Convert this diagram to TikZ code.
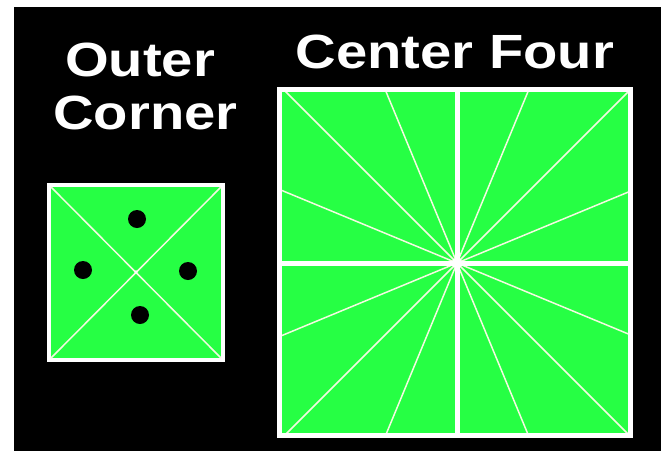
\documentclass[tikz,border=0pt]{standalone}
\usepackage{fontspec}
\setmainfont{Liberation Sans}
\definecolor{grn}{RGB}{38,255,68}
\definecolor{ray}{RGB}{245,250,225}
\begin{document}
\begin{tikzpicture}[x=1pt,y=-1pt,
  title/.style={text=white,font=\fontsize{48}{50}\selectfont\bfseries,anchor=base,inner sep=0pt,xscale=1.17},
  frame/.style={draw=white,fill=grn},
  rayline/.style={draw=ray,line width=1.5pt},
  dot/.style={fill=black}]
\useasboundingbox (0,0) rectangle (661,451);
\fill[white] (0,0) rectangle (661,451);
\fill[black] (14,7) rectangle (661,451);
% titles
\node[title] (t1) at (140,76) {Outer};
\node[title] (t2) at (145.5,129) {Corner};
\node[title] (t3) at (455,68) {Center Four};
% small square
\draw[frame,line width=4pt] (49,185) rectangle (223,360);
\draw[rayline] (51,187) -- (221,358);
\draw[rayline] (221,187) -- (51,358);
\fill[white] (136,272) circle (1.8);
\fill[dot] (137,219) circle (9);
\fill[dot] (83,270) circle (9);
\fill[dot] (188,271) circle (9);
\fill[dot] (140,315) circle (9);
% big square
\fill[grn] (279.5,89.5) rectangle (630.5,435.5);
\begin{scope}
\clip (282,92) rectangle (628,433);
\foreach \a in {22.5,45,67.5,112.5,135,157.5,202.5,225,247.5,292.5,315,337.5}
  \draw[rayline] (457,263) -- ++(\a:260);
\end{scope}
\draw[white,line width=5pt] (457,89.5) -- (457,435.5);
\draw[white,line width=5pt] (279.5,263) -- (630.5,263);
\fill[white] (457,263) circle (5.5);
\draw[white,line width=5pt] (279.5,89.5) rectangle (630.5,435.5);
\end{tikzpicture}
\end{document}
